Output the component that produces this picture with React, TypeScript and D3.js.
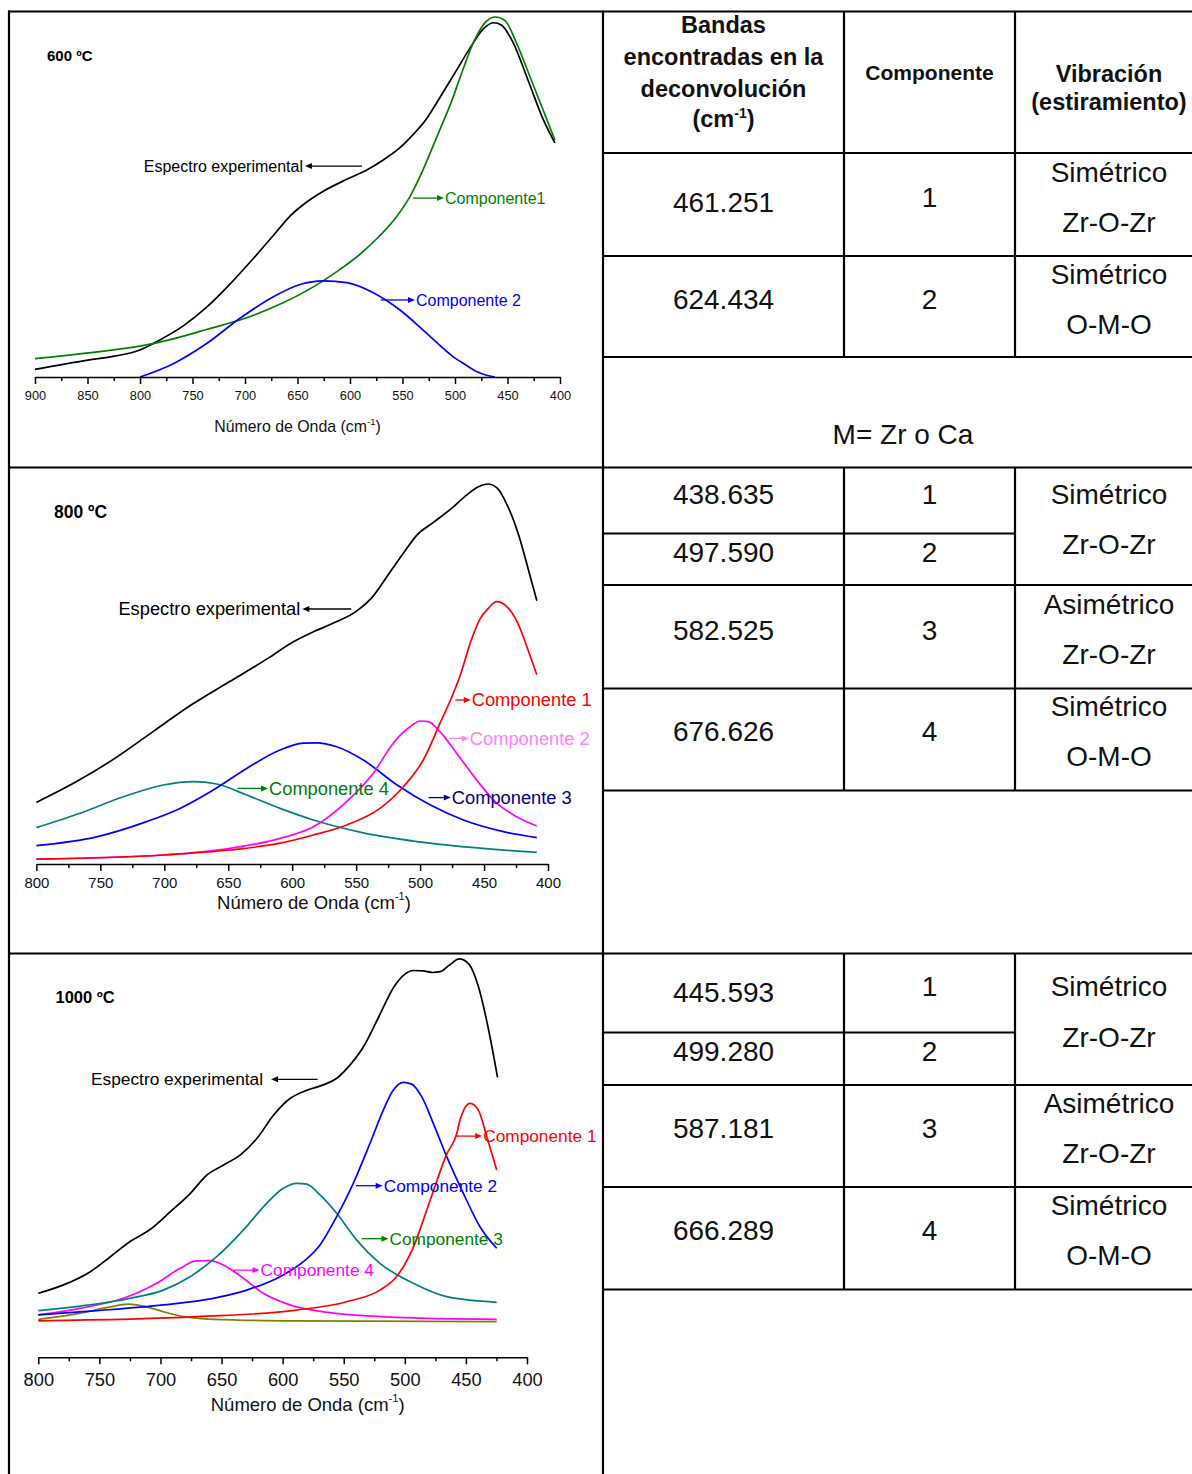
import React, { useEffect, useRef } from 'react';
import * as d3 from 'd3';

type Pt = [number, number];

const FONT = '"Liberation Sans", Arial, Helvetica, sans-serif';

// ---- 600 ºC spectra: [wavenumber (cm-1), absorbance (a.u.)]
const exp600: Pt[] = [[900,0.021],[849.5,0.047],[824,0.058],[800,0.075],[781,0.103],[758.8,0.142],[736.5,0.194],[714.3,0.258],[692.1,0.329],[673,0.393],[657.1,0.447],[641.2,0.486],[625.4,0.516],[603.1,0.549],[584.1,0.575],[568.3,0.603],[552.4,0.637],[539.7,0.674],[526.9,0.718],[517.4,0.762],[499.6,0.847],[485,0.917],[472.4,0.969],[463.1,0.984],[455.9,0.978],[445,0.931],[430.5,0.825],[415.8,0.714],[404.8,0.65]];
const comp1_600: Pt[] = [[900,0.051],[824,0.076],[800,0.086],[768.3,0.106],[736.5,0.132],[700,0.163],[663.8,0.206],[626.7,0.265],[609.5,0.299],[590.5,0.341],[571.4,0.393],[555.5,0.446],[542.9,0.501],[533.3,0.557],[523.8,0.621],[514.3,0.688],[503.1,0.767],[496,0.825],[481.4,0.936],[470.5,0.987],[461.3,1.0],[452.4,0.99],[441.3,0.927],[426.7,0.82],[404.8,0.658]];
const comp2_600: Pt[] = [[800,0],[768.3,0.037],[736.5,0.093],[704.8,0.163],[673,0.223],[647.6,0.257],[625.4,0.267],[603.1,0.262],[577.8,0.234],[552.4,0.186],[526.9,0.121],[501.6,0.056],[490,0.034],[480,0.016],[470,0.005],[462,0]];

// ---- 800 ºC spectra
const exp800: Pt[] = [[800,0.154],[768.6,0.206],[738.7,0.264],[708.8,0.331],[678.8,0.398],[648.9,0.456],[619,0.514],[601,0.552],[583.1,0.581],[565.1,0.606],[550.2,0.631],[538.2,0.664],[523.2,0.731],[511.3,0.785],[502.3,0.823],[490.4,0.852],[475.4,0.889],[463.4,0.923],[454.4,0.943],[447,0.95],[439.5,0.939],[432,0.898],[423,0.823],[415.6,0.739],[408.7,0.658]];
const comp1_800: Pt[] = [[800,0.012],[700.8,0.0225],[648.7,0.035],[609.5,0.052],[583.5,0.0725],[557.4,0.0975],[531.4,0.139],[513.1,0.193],[497.5,0.26],[484.4,0.352],[474,0.427],[468.8,0.47],[460.4,0.556],[452.9,0.614],[447,0.638],[440.1,0.656],[432,0.643],[423,0.598],[415.6,0.535],[408.7,0.473]];
const comp2_800: Pt[] = [[800,0.012],[700.8,0.0225],[648.7,0.039],[609.5,0.064],[583.5,0.093],[557.4,0.156],[536.6,0.227],[521,0.302],[507.9,0.343],[500.1,0.3575],[493.6,0.356],[484.5,0.331],[471.4,0.277],[455.8,0.21],[440.1,0.152],[424.5,0.118],[408.8,0.095]];
const comp3_800: Pt[] = [[800,0.046],[752.9,0.068],[713.8,0.106],[687.7,0.139],[661.7,0.185],[635.6,0.239],[609.5,0.285],[591.3,0.302],[580.8,0.303],[565.2,0.293],[544.4,0.26],[518.3,0.198],[492.3,0.148],[466.2,0.11],[434.9,0.081],[408.8,0.066]];
const comp4_800: Pt[] = [[800,0.091],[765.9,0.127],[732,0.168],[700.8,0.1975],[677.3,0.206],[659,0.2],[635.6,0.1725],[609.5,0.139],[583.5,0.11],[544.4,0.078],[492.3,0.052],[408.8,0.029]];

// ---- 1000 ºC spectra
const exp1000: Pt[] = [[800,0.16],[779.3,0.181],[757.4,0.214],[741,0.2515],[724.6,0.29],[708.3,0.32],[691.9,0.364],[675.5,0.41],[661.9,0.456],[648.3,0.481],[634.6,0.506],[621,0.5475],[607.3,0.606],[593.7,0.6475],[580,0.668],[566.7,0.681],[555.7,0.6975],[544.8,0.731],[533.7,0.777],[521.2,0.852],[508.7,0.927],[499.9,0.958],[493,0.967],[485.2,0.966],[477.3,0.962],[471.1,0.964],[463.3,0.981],[455.5,0.996],[447.6,0.983],[439.8,0.927],[432,0.827],[424.1,0.7]];
const comp1_1000: Pt[] = [[800,0.091],[670.3,0.1015],[588.5,0.118],[547.6,0.139],[520.4,0.168],[506.8,0.2015],[493.1,0.275],[479.4,0.3915],[465.7,0.508],[457.6,0.558],[454.8,0.593],[446.6,0.635],[439.8,0.618],[432.9,0.5515],[424.8,0.468]];
const comp2_1000: Pt[] = [[800,0.106],[752.2,0.1165],[697.7,0.131],[656.8,0.1475],[629.4,0.168],[602.2,0.2015],[583.1,0.239],[569.4,0.281],[555.8,0.3515],[542.2,0.435],[528.5,0.535],[517.6,0.618],[509.4,0.668],[501.2,0.6875],[494.4,0.683],[486.2,0.6515],[476.7,0.585],[465.7,0.5015],[452.1,0.41],[438.5,0.3265],[424.8,0.2725]];
const comp3_1000: Pt[] = [[800,0.1165],[765.9,0.128],[724.9,0.1475],[697.7,0.168],[675.8,0.2015],[654,0.2515],[632.2,0.318],[613.1,0.385],[599.5,0.4225],[588.5,0.435],[580.3,0.433],[569.4,0.4058],[555.8,0.36],[539.4,0.293],[520.4,0.235],[493.1,0.185],[465.7,0.1515],[424.8,0.1375]];
const comp4_1000: Pt[] = [[800,0.106],[765.9,0.1225],[730.4,0.1475],[703.1,0.185],[684,0.2225],[670.3,0.241],[659.4,0.2415],[648.6,0.231],[632.2,0.1975],[615.8,0.16],[594,0.131],[561.2,0.1115],[506.6,0.1],[424.8,0.095]];
const comp5_1000: Pt[] = [[800,0.095],[765.9,0.11],[744,0.124],[726.3,0.133],[714,0.128],[697.7,0.114],[681.3,0.1015],[656.8,0.095],[588.5,0.091],[424.8,0.089]];

// ---- table contents
const headerBands = ['Bandas', 'encontradas en la', 'deconvolución'];
const headerComp = 'Componente';
const headerVib = ['Vibración', '(estiramiento)'];

const bands600 = ['461.251', '624.434'];
const comps600 = ['1', '2'];
const vib600 = [['Simétrico', 'Zr-O-Zr'], ['Simétrico', 'O-M-O']];
const note600 = 'M= Zr o Ca';

const bands800 = ['438.635', '497.590', '582.525', '676.626'];
const comps800 = ['1', '2', '3', '4'];
const vib800 = [['Simétrico', 'Zr-O-Zr'], ['Asimétrico', 'Zr-O-Zr'], ['Simétrico', 'O-M-O']];

const bands1000 = ['445.593', '499.280', '587.181', '666.289'];
const comps1000 = ['1', '2', '3', '4'];
const vib1000 = [['Simétrico', 'Zr-O-Zr'], ['Asimétrico', 'Zr-O-Zr'], ['Simétrico', 'O-M-O']];

// ---- colours
const BLACK = '#000000';
const GREEN = '#008000';
const BLUE = '#0000ff';
const RED = '#ff0000';
const MAGENTA = '#ff00ff';
const PINK = '#ff80ff';
const TEAL = '#008080';
const NAVY = '#000080';
const OLIVE = '#808000';

interface Note { text: string; color: string; tail: number; head: number; v: number; gap?: number; }
interface PanelCfg {
  label: string; labelX: number; labelY: number; labelFs: number;
  domain: [number, number]; xRange: [number, number]; axisY: number; h: number;
  tickFs: number; tickPad: number; titleX: number; titleY: number; titleFs: number;
  noteFs: number;
  series: { pts: Pt[]; color: string }[];
  notes: Note[];
}

const PANELS: PanelCfg[] = [
  {
    label: '600 ºC', labelX: 47, labelY: 61, labelFs: 15,
    domain: [900, 400], xRange: [35, 560], axisY: 377, h: 360,
    tickFs: 12.8, tickPad: 7, titleX: 297.5, titleY: 432, titleFs: 15.9, noteFs: 16,
    series: [
      { pts: exp600, color: BLACK },
      { pts: comp1_600, color: GREEN },
      { pts: comp2_600, color: BLUE },
    ],
    notes: [
      { text: 'Espectro experimental', color: BLACK, tail: 588.6, head: 642.9, v: 0.586 },
      { text: 'Componente1', color: GREEN, tail: 540, head: 510.5, v: 0.497 },
      { text: 'Componente 2', color: BLUE, tail: 570.7, head: 538.1, v: 0.214 },
    ],
  },
  {
    label: '800 ºC', labelX: 54, labelY: 518, labelFs: 17.5,
    domain: [800, 400], xRange: [36.4, 548], axisY: 864, h: 400,
    tickFs: 15, tickPad: 6.8, titleX: 314, titleY: 908.5, titleFs: 18.5, noteFs: 18.3,
    series: [
      { pts: exp800, color: BLACK },
      { pts: comp4_800, color: TEAL },
      { pts: comp3_800, color: BLUE },
      { pts: comp2_800, color: MAGENTA },
      { pts: comp1_800, color: RED },
    ],
    notes: [
      { text: 'Espectro experimental', color: BLACK, tail: 553.8, head: 592.1, v: 0.6375 },
      { text: 'Componente 1', color: RED, tail: 472.4, head: 460.4, v: 0.41 },
      { text: 'Componente 2', color: PINK, tail: 476.9, head: 461.9, v: 0.314 },
      { text: 'Componente 4', color: GREEN, tail: 642.9, head: 618.9, v: 0.189 },
      { text: 'Componente 3', color: NAVY, tail: 493.4, head: 476, v: 0.166 },
    ],
  },
  {
    label: '1000 ºC', labelX: 55.5, labelY: 1003, labelFs: 16.5,
    domain: [800, 400], xRange: [38.3, 527], axisY: 1357.3, h: 400,
    tickFs: 18.3, tickPad: 8.7, titleX: 307.7, titleY: 1410.5, titleFs: 18.5, noteFs: 17.3,
    series: [
      { pts: exp1000, color: BLACK },
      { pts: comp5_1000, color: OLIVE },
      { pts: comp4_1000, color: MAGENTA },
      { pts: comp3_1000, color: TEAL },
      { pts: comp2_1000, color: BLUE },
      { pts: comp1_1000, color: RED },
    ],
    notes: [
      { text: 'Espectro experimental', color: BLACK, tail: 571.4, head: 609.5, v: 0.695, gap: 8 },
      { text: 'Componente 1', color: RED, tail: 458.6, head: 436.7, v: 0.553 },
      { text: 'Componente 2', color: BLUE, tail: 540, head: 518.1, v: 0.429 },
      { text: 'Componente 3', color: GREEN, tail: 535.4, head: 513.4, v: 0.2965 },
      { text: 'Componente 4', color: MAGENTA, tail: 641.9, head: 618.9, v: 0.218 },
    ],
  },
];

function Arrow({ x1, x2, y, color }: { x1: number; x2: number; y: number; color: string }) {
  const dir = x2 > x1 ? 1 : -1;
  const L = 7, W = 3;
  return (
    <g>
      <line x1={x1} y1={y} x2={x2 - dir * L * 0.6} y2={y} stroke={color} strokeWidth={1.3} />
      <path d={`M${x2},${y} L${x2 - dir * L},${y - W} L${x2 - dir * L},${y + W} Z`} fill={color} />
    </g>
  );
}

function Panel({ cfg }: { cfg: PanelCfg }) {
  const axisRef = useRef<SVGGElement>(null);
  const x = d3.scaleLinear().domain(cfg.domain).range(cfg.xRange);
  const y = d3.scaleLinear().domain([0, 1]).range([cfg.axisY, cfg.axisY - cfg.h]);
  const line = d3.line<Pt>().x(d => x(d[0])).y(d => y(d[1])).curve(d3.curveMonotoneX);

  useEffect(() => {
    if (!axisRef.current) return;
    const g = d3.select(axisRef.current);
    g.selectAll('*').remove();
    const lo = Math.min(...cfg.domain), hi = Math.max(...cfg.domain);
    const major = d3.range(lo, hi + 1, 50);
    const minor = d3.range(lo, hi + 1, 25).filter(v => v % 50 !== 0);
    g.append('g')
      .call(d3.axisBottom(x).tickValues(minor).tickSize(4).tickSizeOuter(0).tickFormat(() => ''))
      .call(s => s.select('.domain').remove());
    g.append('g')
      .call(d3.axisBottom(x).tickValues(major).tickSize(7).tickSizeOuter(0).tickPadding(cfg.tickPad).tickFormat(d3.format('d')));
    g.selectAll('g').attr('font-family', FONT).attr('font-size', cfg.tickFs);
    g.selectAll('text').attr('fill', '#111');
    g.selectAll('line, path.domain').attr('stroke', '#000').attr('stroke-width', 1.5);
  }, []);

  return (
    <g>
      <text x={cfg.labelX} y={cfg.labelY} fontFamily={FONT} fontWeight="bold" fontSize={cfg.labelFs} fill="#000">{cfg.label}</text>
      {cfg.series.map((s, i) => (
        <path key={i} d={line(s.pts) || ''} fill="none" stroke={s.color} strokeWidth={1.7} strokeLinejoin="round" />
      ))}
      <g ref={axisRef} transform={`translate(0,${cfg.axisY})`} />
      <text x={cfg.titleX} y={cfg.titleY} textAnchor="middle" fontFamily={FONT} fontSize={cfg.titleFs} fill="#111">
        Número de Onda (cm<tspan dy={-cfg.titleFs * 0.45} fontSize={cfg.titleFs * 0.6}>-1</tspan><tspan dy={cfg.titleFs * 0.45}>)</tspan>
      </text>
      {cfg.notes.map((n, i) => {
        const x1 = x(n.tail), x2 = x(n.head), yy = y(n.v);
        const right = x2 > x1;
        const gap = n.gap ?? 2;
        return (
          <g key={i}>
            <Arrow x1={x1} x2={x2} y={yy} color={n.color} />
            <text x={right ? x2 + 1 : x2 - gap} y={yy + cfg.noteFs * 0.35} textAnchor={right ? 'start' : 'end'}
              fontFamily={FONT} fontSize={cfg.noteFs} fill={n.color}>{n.text}</text>
          </g>
        );
      })}
    </g>
  );
}

const C1 = 723.5, C2 = 929.5, C3 = 1109;
const BODY_FS = 28;

function Cell({ x, y, t, fs = BODY_FS, bold = false }: { x: number; y: number; t: string; fs?: number; bold?: boolean }) {
  return (
    <text x={x} y={y} textAnchor="middle" fontFamily={FONT} fontSize={fs} fontWeight={bold ? 'bold' : 'normal'} fill="#111">{t}</text>
  );
}

function Grid() {
  const h = (y: number, x1: number, x2: number) => ({ x1, x2, y1: y, y2: y });
  const v = (x: number, y1: number, y2: number) => ({ x1: x, x2: x, y1, y2 });
  const segs = [
    h(11.5, 8, 1192), h(467.5, 8, 1192), h(953.5, 8, 1192),
    v(9, 10.5, 1474), v(603, 10.5, 1474),
    h(153, 603, 1192), h(256, 603, 1192), h(357, 603, 1192),
    v(844, 11, 357), v(1015, 11, 357),
    h(533.5, 603, 1015), h(585, 603, 1192), h(688.5, 603, 1192), h(790.5, 603, 1192),
    v(844, 467.5, 790.5), v(1015, 467.5, 790.5),
    h(1032.5, 603, 1015), h(1085, 603, 1192), h(1187, 603, 1192), h(1289.5, 603, 1192),
    v(844, 953.5, 1289.5), v(1015, 953.5, 1289.5),
  ];
  return (
    <g>
      {segs.map((s, i) => <line key={i} {...s} stroke="#000" strokeWidth={2.2} />)}
    </g>
  );
}

function Table() {
  return (
    <g>
      <Cell x={C1} y={33} t={headerBands[0]} fs={23.5} bold />
      <Cell x={C1} y={65} t={headerBands[1]} fs={23.5} bold />
      <Cell x={C1} y={97} t={headerBands[2]} fs={23.5} bold />
      <text x={C1} y={127} textAnchor="middle" fontFamily={FONT} fontSize={23.5} fontWeight="bold" fill="#111">
        (cm<tspan dy={-9} fontSize={14}>-1</tspan><tspan dy={9}>)</tspan>
      </text>
      <Cell x={C2} y={80} t={headerComp} fs={21} bold />
      <Cell x={C3} y={82} t={headerVib[0]} fs={23.5} bold />
      <Cell x={C3} y={110} t={headerVib[1]} fs={23.5} bold />

      {/* 600 ºC */}
      <Cell x={C1} y={212} t={bands600[0]} />
      <Cell x={C2} y={207} t={comps600[0]} />
      <Cell x={C3} y={182} t={vib600[0][0]} />
      <Cell x={C3} y={232} t={vib600[0][1]} />
      <Cell x={C1} y={308.5} t={bands600[1]} />
      <Cell x={C2} y={308.5} t={comps600[1]} />
      <Cell x={C3} y={284} t={vib600[1][0]} />
      <Cell x={C3} y={333.5} t={vib600[1][1]} />
      <Cell x={903} y={443.5} t={note600} />

      {/* 800 ºC */}
      <Cell x={C1} y={503.5} t={bands800[0]} />
      <Cell x={C2} y={503.5} t={comps800[0]} />
      <Cell x={C1} y={562} t={bands800[1]} />
      <Cell x={C2} y={562} t={comps800[1]} />
      <Cell x={C3} y={503.5} t={vib800[0][0]} />
      <Cell x={C3} y={554} t={vib800[0][1]} />
      <Cell x={C1} y={639.5} t={bands800[2]} />
      <Cell x={C2} y={639.5} t={comps800[2]} />
      <Cell x={C3} y={614} t={vib800[1][0]} />
      <Cell x={C3} y={664} t={vib800[1][1]} />
      <Cell x={C1} y={741} t={bands800[3]} />
      <Cell x={C2} y={741} t={comps800[3]} />
      <Cell x={C3} y={716} t={vib800[2][0]} />
      <Cell x={C3} y={766} t={vib800[2][1]} />

      {/* 1000 ºC */}
      <Cell x={C1} y={1002} t={bands1000[0]} />
      <Cell x={C2} y={996} t={comps1000[0]} />
      <Cell x={C1} y={1061} t={bands1000[1]} />
      <Cell x={C2} y={1061} t={comps1000[1]} />
      <Cell x={C3} y={996} t={vib1000[0][0]} />
      <Cell x={C3} y={1047} t={vib1000[0][1]} />
      <Cell x={C1} y={1137.5} t={bands1000[2]} />
      <Cell x={C2} y={1137.5} t={comps1000[2]} />
      <Cell x={C3} y={1112.5} t={vib1000[1][0]} />
      <Cell x={C3} y={1163} t={vib1000[1][1]} />
      <Cell x={C1} y={1239.5} t={bands1000[3]} />
      <Cell x={C2} y={1239.5} t={comps1000[3]} />
      <Cell x={C3} y={1214.5} t={vib1000[2][0]} />
      <Cell x={C3} y={1264.5} t={vib1000[2][1]} />
    </g>
  );
}

export default function App() {
  return (
    <svg width={1192} height={1474} viewBox="0 0 1192 1474"
      style={{ position: 'absolute', left: 0, top: 0, background: '#fff', display: 'block' }}>
      <rect x={0} y={0} width={1192} height={1474} fill="#fff" />
      {PANELS.map((p, i) => <Panel key={i} cfg={p} />)}
      <Table />
      <Grid />
    </svg>
  );
}
